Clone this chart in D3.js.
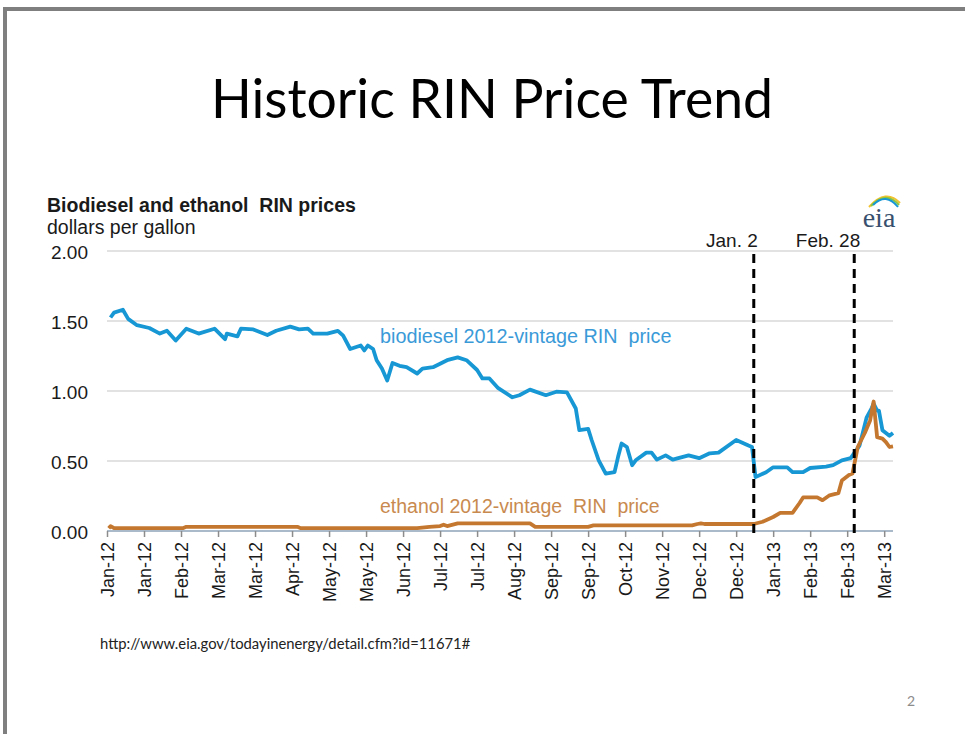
<!DOCTYPE html>
<html>
<head>
<meta charset="utf-8">
<script src="https://cdn.jsdelivr.net/npm/d3@7"></script>
<style>
  body { margin: 0; background: #fff; }
  text { white-space: pre; }
</style>
</head>
<body>
<svg id="chart" width="965" height="734"></svg>
<script>
// Biodiesel 2012-vintage RIN price, dollars per gallon
const biodieselDates = ["2012-01-03","2012-01-05","2012-01-10","2012-01-13","2012-01-18","2012-01-25","2012-01-31","2012-02-04","2012-02-09","2012-02-15","2012-02-22","2012-03-02","2012-03-08","2012-03-09","2012-03-15","2012-03-17","2012-03-24","2012-04-01","2012-04-06","2012-04-14","2012-04-19","2012-04-24","2012-04-27","2012-05-05","2012-05-11","2012-05-14","2012-05-18","2012-05-24","2012-05-26","2012-05-28","2012-05-31","2012-06-02","2012-06-05","2012-06-08","2012-06-11","2012-06-15","2012-06-19","2012-06-25","2012-06-28","2012-07-04","2012-07-12","2012-07-18","2012-07-23","2012-07-29","2012-08-01","2012-08-05","2012-08-10","2012-08-18","2012-08-22","2012-08-28","2012-09-06","2012-09-12","2012-09-18","2012-09-23","2012-09-25","2012-09-30","2012-10-02","2012-10-06","2012-10-10","2012-10-15","2012-10-17","2012-10-19","2012-10-22","2012-10-25","2012-10-27","2012-11-02","2012-11-05","2012-11-08","2012-11-13","2012-11-17","2012-11-26","2012-12-02","2012-12-08","2012-12-13","2012-12-23","2012-12-30","2013-01-01","2013-01-03","2013-01-09","2013-01-13","2013-01-21","2013-01-24","2013-01-30","2013-02-03","2013-02-12","2013-02-16","2013-02-21","2013-02-26","2013-03-03","2013-03-07","2013-03-10","2013-03-11","2013-03-13","2013-03-14","2013-03-16","2013-03-20","2013-03-22"];
const biodieselPrices = [1.525,1.56,1.58,1.515,1.47,1.45,1.41,1.43,1.36,1.445,1.41,1.445,1.37,1.41,1.39,1.445,1.44,1.40,1.43,1.46,1.44,1.445,1.41,1.41,1.43,1.395,1.30,1.325,1.29,1.325,1.30,1.22,1.16,1.075,1.20,1.18,1.17,1.125,1.16,1.17,1.22,1.24,1.22,1.15,1.09,1.09,1.02,0.955,0.97,1.01,0.97,0.995,0.99,0.875,0.72,0.73,0.65,0.505,0.41,0.42,0.53,0.625,0.60,0.47,0.505,0.56,0.56,0.51,0.54,0.51,0.54,0.52,0.555,0.56,0.65,0.61,0.60,0.385,0.42,0.455,0.455,0.42,0.42,0.45,0.46,0.47,0.505,0.52,0.61,0.81,0.88,0.91,0.86,0.86,0.72,0.68,0.70];

// Ethanol 2012-vintage RIN price, dollars per gallon
const ethanolDates = ["2012-01-02","2012-01-03","2012-01-05","2012-02-13","2012-02-15","2012-04-18","2012-04-20","2012-06-25","2012-07-02","2012-07-08","2012-07-10","2012-07-12","2012-07-18","2012-08-28","2012-08-31","2012-09-30","2012-10-03","2012-11-28","2012-12-01","2012-12-03","2012-12-05","2013-01-02","2013-01-07","2013-01-13","2013-01-17","2013-01-24","2013-01-28","2013-01-30","2013-02-07","2013-02-10","2013-02-14","2013-02-19","2013-02-21","2013-02-25","2013-02-27","2013-03-02","2013-03-06","2013-03-09","2013-03-11","2013-03-13","2013-03-16","2013-03-18","2013-03-20","2013-03-22"];
const ethanolPrices = [0.02,0.035,0.02,0.02,0.03,0.03,0.02,0.02,0.03,0.035,0.045,0.035,0.055,0.055,0.03,0.03,0.04,0.04,0.05,0.055,0.05,0.05,0.066,0.10,0.13,0.13,0.20,0.24,0.24,0.22,0.255,0.27,0.36,0.40,0.41,0.60,0.70,0.79,0.925,0.67,0.66,0.635,0.60,0.605];

// Axis ticks: one every three weeks on x, every 50 cents on y
const xTickDates = ["2012-01-01","2012-01-22","2012-02-12","2012-03-04","2012-03-25","2012-04-15","2012-05-06","2012-05-27","2012-06-17","2012-07-08","2012-07-29","2012-08-19","2012-09-09","2012-09-30","2012-10-21","2012-11-11","2012-12-02","2012-12-23","2013-01-13","2013-02-03","2013-02-24","2013-03-17"];
const yTicks = [0, 0.5, 1.0, 1.5, 2.0];

// Policy dates marked with dashed lines
const markerDates = ["2013-01-02","2013-02-28"];
const markerLabels = ["Jan. 2","Feb. 28"];

(function draw() {
  const parse = d3.utcParse("%Y-%m-%d");
  const svg = d3.select("#chart");

  // Slide frame
  svg.append("rect")
    .attr("x", 5).attr("y", 9).attr("width", 1000).attr("height", 800)
    .attr("fill", "none").attr("stroke", "#7f7f7f").attr("stroke-width", 4);

  // Slide title
  svg.append("text")
    .attr("x", 492).attr("y", 118)
    .attr("text-anchor", "middle")
    .attr("font-family", "Lato, 'Open Sans', sans-serif")
    .attr("font-size", 53.5)
    .attr("fill", "#000")
    .text("Historic RIN Price Trend");

  const plotLeft = 107, plotRight = 893, plotTop = 251, plotBottom = 531;

  const x = d3.scaleUtc()
    .domain([parse("2012-01-01"), parse("2013-03-22")])
    .range([plotLeft, plotRight]);
  const y = d3.scaleLinear().domain([0, 2]).range([plotBottom, plotTop]);

  const font = "'Liberation Sans', Arial, sans-serif";

  // Chart heading
  svg.append("text")
    .attr("x", 47).attr("y", 212)
    .attr("font-family", font).attr("font-weight", "bold").attr("font-size", 19.5)
    .attr("fill", "#1a1a1a")
    .text("Biodiesel and ethanol  RIN prices");
  svg.append("text")
    .attr("x", 47).attr("y", 234)
    .attr("font-family", font).attr("font-size", 19.5)
    .attr("fill", "#1a1a1a")
    .text("dollars per gallon");

  // Gridlines
  svg.append("g")
    .selectAll("line")
    .data(yTicks.filter(v => v > 0))
    .join("line")
    .attr("x1", plotLeft).attr("x2", plotRight)
    .attr("y1", d => y(d)).attr("y2", d => y(d))
    .attr("stroke", "#d9d9d9").attr("stroke-width", 1.5);

  // Y axis labels
  const yAxis = d3.axisLeft(y).tickValues(yTicks).tickFormat(d3.format(".2f")).tickSize(0).tickPadding(0);
  const gy = svg.append("g").attr("transform", "translate(88,0)").call(yAxis);
  gy.select(".domain").remove();
  gy.selectAll("text")
    .attr("font-family", font).attr("font-size", 19).attr("fill", "#1a1a1a")
    .attr("dy", "0.38em");

  // X axis
  const xAxis = d3.axisBottom(x)
    .tickValues(xTickDates.map(parse))
    .tickFormat(d3.utcFormat("%b-%y"))
    .tickSize(6).tickPadding(6);
  const gx = svg.append("g").attr("transform", `translate(0,${plotBottom})`).call(xAxis);
  gx.select(".domain").attr("d", `M${plotLeft},0H${plotRight}`).attr("stroke", "#8ea3b8").attr("stroke-width", 1.5);
  gx.selectAll(".tick line").attr("stroke", "#8c8c8c").attr("stroke-width", 1.5);
  gx.selectAll(".tick text")
    .attr("font-family", font).attr("font-size", 18).attr("fill", "#1a1a1a")
    .attr("text-anchor", "end")
    .attr("transform", "rotate(-90)")
    .attr("x", -11).attr("y", 0).attr("dy", "0.36em");

  // Series lines
  const line = d3.line()
    .x(d => x(d[0]))
    .y(d => y(d[1]));

  const biodiesel = biodieselDates.map((d, i) => [parse(d), biodieselPrices[i]]);
  const ethanol = ethanolDates.map((d, i) => [parse(d), ethanolPrices[i]]);

  svg.append("path")
    .datum(biodiesel)
    .attr("d", line)
    .attr("fill", "none").attr("stroke", "#1797d4").attr("stroke-width", 3.8)
    .attr("stroke-linejoin", "round");

  svg.append("path")
    .datum(ethanol)
    .attr("d", line)
    .attr("fill", "none").attr("stroke", "#c4782f").attr("stroke-width", 3.8)
    .attr("stroke-linejoin", "round");

  // Dashed marker lines with labels
  const markers = svg.append("g");
  markers.selectAll("line")
    .data(markerDates)
    .join("line")
    .attr("x1", d => x(parse(d))).attr("x2", d => x(parse(d)))
    .attr("y1", 254).attr("y2", plotBottom + 4)
    .attr("stroke", "#000").attr("stroke-width", 3)
    .attr("stroke-dasharray", "9,6");
  markers.selectAll("text")
    .data(markerDates)
    .join("text")
    .attr("x", (d, i) => x(parse(d)) + (i === 0 ? 4 : 6))
    .attr("y", 247)
    .attr("text-anchor", "end")
    .attr("font-family", font).attr("font-size", 19).attr("fill", "#1a1a1a")
    .text((d, i) => markerLabels[i]);

  // Series labels
  svg.append("text")
    .attr("x", 380).attr("y", 343)
    .attr("font-family", font).attr("font-size", 19.8).attr("fill", "#3a9ad8")
    .text("biodiesel 2012-vintage RIN  price");
  svg.append("text")
    .attr("x", 380).attr("y", 513)
    .attr("font-family", font).attr("font-size", 19.5).attr("fill", "#c98a4f")
    .text("ethanol 2012-vintage  RIN  price");

  // eia mark
  const logo = svg.append("g");
  logo.append("text")
    .attr("x", 879).attr("y", 227)
    .attr("text-anchor", "middle")
    .attr("font-family", "'Liberation Serif', 'DejaVu Serif', serif").attr("font-size", 28)
    .attr("fill", "#38506e")
    .text("eia");
  const arcColors = ["#f2c230", "#8cc63f", "#1797d4"];
  arcColors.forEach((c, i) => {
    logo.append("path")
      .attr("d", `M${869 + i * 2},${207 - i} Q${886},${188 + i * 2} ${900 - i},${203 + i * 2}`)
      .attr("fill", "none").attr("stroke", c).attr("stroke-width", 2);
  });

  // Source and slide number
  svg.append("text")
    .attr("x", 100).attr("y", 649)
    .attr("font-family", "Lato, 'Open Sans', sans-serif").attr("font-size", 14.8)
    .attr("fill", "#222")
    .text("http://www.eia.gov/todayinenergy/detail.cfm?id=11671#");
  svg.append("text")
    .attr("x", 911).attr("y", 706)
    .attr("text-anchor", "middle")
    .attr("font-family", "Lato, 'Open Sans', sans-serif").attr("font-size", 14)
    .attr("fill", "#8c8c8c")
    .text("2");
})();
</script>
</body>
</html>
